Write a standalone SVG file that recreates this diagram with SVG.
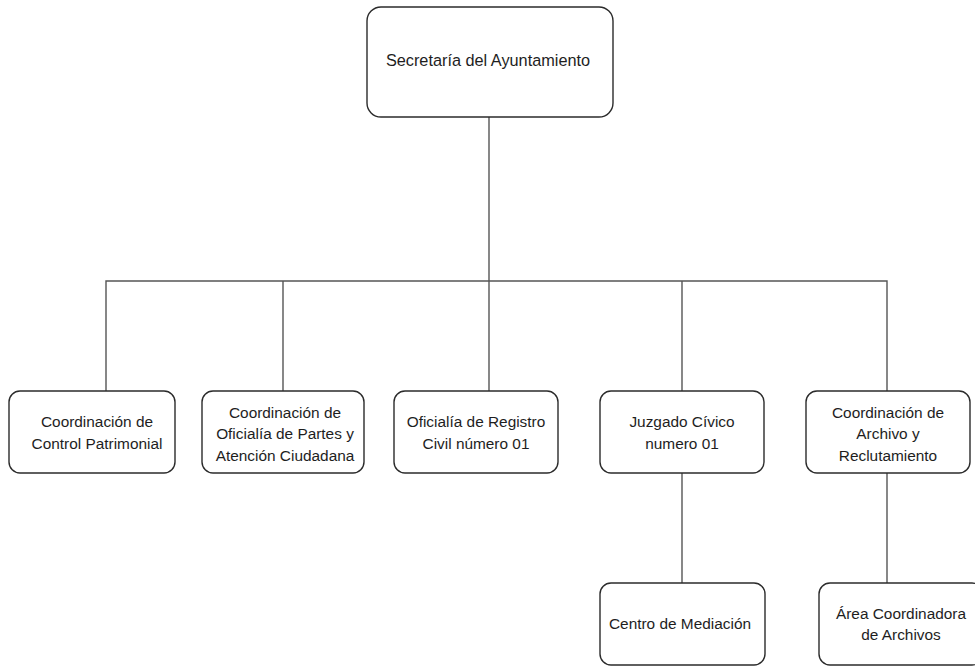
<svg xmlns="http://www.w3.org/2000/svg" width="975" height="666" viewBox="0 0 975 666">
  <style>
    .box { fill: #ffffff; stroke: #2b2b2b; stroke-width: 1.4; }
    .link { fill: none; stroke: #555555; stroke-width: 1.4; }
    text { font-family: "Liberation Sans", Arial, sans-serif; font-size: 15.4px; fill: #1e1e1e; text-anchor: middle; }
    .title { font-size: 16.3px; }
  </style>
  <rect width="975" height="666" fill="#ffffff"/>

  <g id="connectors">
    <path class="link" d="M489 117 V281"/>
    <path class="link" d="M106 391 V281 H887 V391"/>
    <path class="link" d="M283 281 V391"/>
    <path class="link" d="M489 281 V391"/>
    <path class="link" d="M682 281 V391"/>
    <path class="link" d="M682 473 V583"/>
    <path class="link" d="M887 473 V583"/>
  </g>

  <g id="secretaria">
    <rect class="box" x="367" y="7" width="246" height="110" rx="14"/>
    <text class="title" x="488" y="66">Secretaría del Ayuntamiento</text>
  </g>

  <g id="control-patrimonial">
    <rect class="box" x="9" y="391" width="166" height="82" rx="11"/>
    <text x="97" y="427">Coordinación de</text>
    <text x="97" y="448.5">Control Patrimonial</text>
  </g>

  <g id="oficialia-partes">
    <rect class="box" x="202" y="391" width="162" height="82" rx="11"/>
    <text x="285" y="417.5">Coordinación de</text>
    <text x="285" y="439">Oficialía de Partes y</text>
    <text x="285" y="460.5">Atención Ciudadana</text>
  </g>

  <g id="registro-civil">
    <rect class="box" x="394" y="391" width="164" height="82" rx="11"/>
    <text x="476" y="427">Oficialía de Registro</text>
    <text x="476" y="448.5">Civil número 01</text>
  </g>

  <g id="juzgado-civico">
    <rect class="box" x="600" y="391" width="164" height="82" rx="11"/>
    <text x="682" y="427">Juzgado Cívico</text>
    <text x="682" y="448.5">numero 01</text>
  </g>

  <g id="archivo-reclutamiento">
    <rect class="box" x="806" y="391" width="164" height="82" rx="11"/>
    <text x="888" y="417.5">Coordinación de</text>
    <text x="888" y="439">Archivo y</text>
    <text x="888" y="460.5">Reclutamiento</text>
  </g>

  <g id="centro-mediacion">
    <rect class="box" x="600" y="583" width="165" height="82" rx="11"/>
    <text x="680" y="629">Centro de Mediación</text>
  </g>

  <g id="area-archivos">
    <rect class="box" x="819" y="583" width="164" height="82" rx="11"/>
    <text x="901" y="618.5">Área Coordinadora</text>
    <text x="901" y="640">de Archivos</text>
  </g>
</svg>
